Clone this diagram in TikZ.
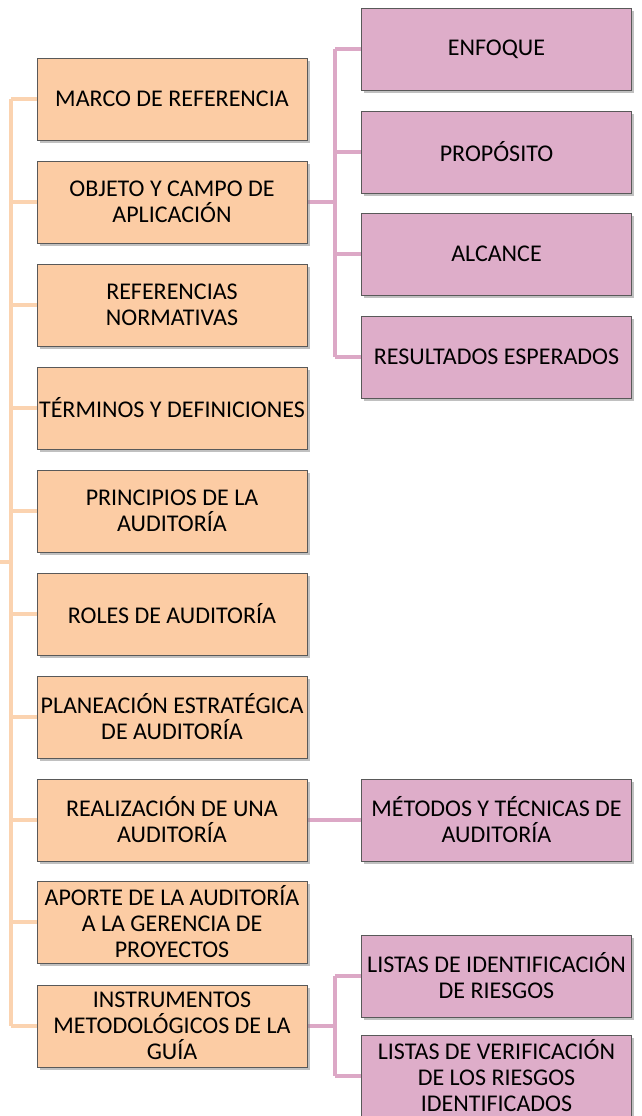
\documentclass[tikz,border=0pt]{standalone}
\usepackage{fontspec}
\setmainfont{Carlito}
\usetikzlibrary{shadows,backgrounds}
\definecolor{peach}{HTML}{FCCCA4}
\definecolor{mauve}{HTML}{DEADC9}
\definecolor{peachline}{HTML}{FBD3B0}
\definecolor{mauveline}{HTML}{DCA8C6}
\begin{document}
\begin{tikzpicture}[x=1pt,y=-1pt,
  box/.style={draw=black!65, line width=0.8pt, minimum width=270pt, minimum height=82pt,
    align=center, inner sep=1pt, font=\fontsize{24}{26}\selectfont,
    drop shadow={shadow xshift=2.5pt, shadow yshift=-3pt, fill=black!45, opacity=0.55}},
  obox/.style={box, fill=peach},
  pbox/.style={box, fill=mauve},
  oline/.style={draw=peachline, line width=4pt},
  pline/.style={draw=mauveline, line width=4pt}]
\useasboundingbox (0,0) rectangle (641,1116);
\node[obox] (m1) at (172,99) {MARCO DE REFERENCIA};
\node[obox] (m2) at (172,202) {OBJETO Y CAMPO DE\\APLICACIÓN};
\node[obox] (m3) at (172,305) {REFERENCIAS\\NORMATIVAS};
\node[obox] (m4) at (172,408) {TÉRMINOS Y DEFINICIONES};
\node[obox] (m5) at (172,511) {PRINCIPIOS DE LA\\AUDITORÍA};
\node[obox] (m6) at (172,614) {ROLES DE AUDITORÍA};
\node[obox] (m7) at (172,717) {PLANEACIÓN ESTRATÉGICA\\DE AUDITORÍA};
\node[obox] (m8) at (172,820) {REALIZACIÓN DE UNA\\AUDITORÍA};
\node[obox] (m9) at (172,922) {APORTE DE LA AUDITORÍA\\A LA GERENCIA DE\\PROYECTOS};
\node[obox] (m10) at (172,1026) {INSTRUMENTOS\\METODOLÓGICOS DE LA\\GUÍA};
\node[pbox] (p1) at (496.5,49) {ENFOQUE};
\node[pbox] (p2) at (496.5,152) {PROPÓSITO};
\node[pbox] (p3) at (496.5,254) {ALCANCE};
\node[pbox] (p4) at (496.5,357) {RESULTADOS ESPERADOS};
\node[pbox] (p5) at (496.5,820) {MÉTODOS Y TÉCNICAS DE\\AUDITORÍA};
\node[pbox] (p6) at (496.5,976) {LISTAS DE IDENTIFICACIÓN\\DE RIESGOS};
\node[pbox] (p7) at (496.5,1076) {LISTAS DE VERIFICACIÓN\\DE LOS RIESGOS\\IDENTIFICADOS};
\coordinate (trunk) at (11,562);
\coordinate (rootend) at (0,562);
\coordinate (pj) at (335,0);
\begin{pgfonlayer}{background}
  \draw[oline] (rootend) -- (trunk);
  \draw[oline] (trunk |- m1) -- (trunk |- m10);
  \foreach \i in {1,...,10} { \draw[oline] (trunk |- m\i) -- (m\i.west); }
  \draw[pline] (m2.east) -- (m2.east -| pj);
  \draw[pline] (pj |- p1) -- (pj |- p4);
  \foreach \i in {1,...,4} { \draw[pline] (pj |- p\i) -- (p\i.west); }
  \draw[pline] (m8.east) -- (p5.west);
  \draw[pline] (m10.east) -- (m10.east -| pj);
  \draw[pline] (pj |- p6) -- (pj |- p7);
  \draw[pline] (pj |- p6) -- (p6.west);
  \draw[pline] (pj |- p7) -- (p7.west);
\end{pgfonlayer}
\end{tikzpicture}
\end{document}
